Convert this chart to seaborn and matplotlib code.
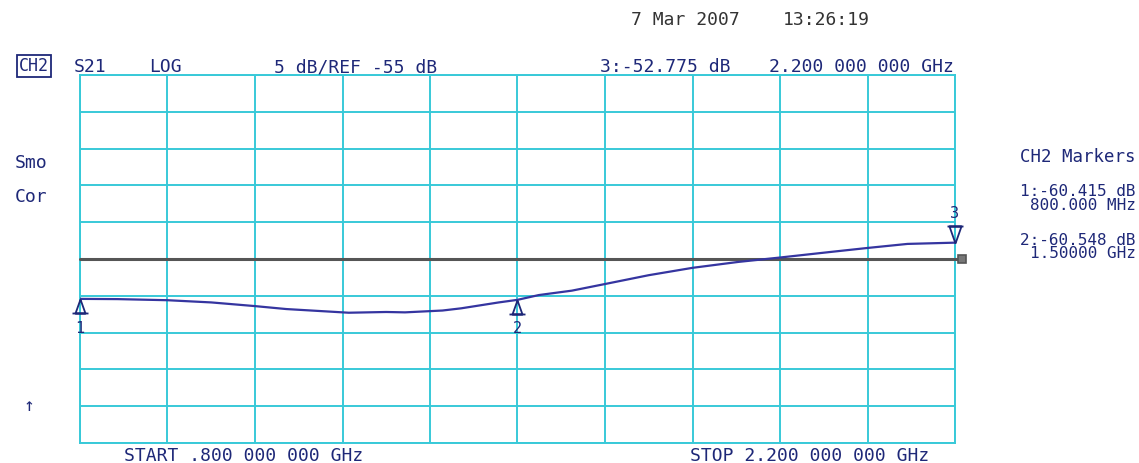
import numpy as np
import pandas as pd
import matplotlib
matplotlib.use("Agg")
import matplotlib.pyplot as plt
from matplotlib.path import Path
import seaborn as sns

# ---- data ----
freq_ghz = [0.80, 0.86, 0.94, 1.01, 1.08, 1.13, 1.19, 1.23, 1.29, 1.32, 1.38, 1.41, 1.47,
            1.50, 1.534, 1.587, 1.64, 1.71, 1.78, 1.853, 1.92, 2.00, 2.06, 2.124, 2.20]
s21_db = [-60.42, -60.45, -60.6, -60.9, -61.4, -61.8, -62.1, -62.3, -62.2, -62.25, -62.0, -61.7, -60.9,
          -60.55, -59.9, -59.3, -58.4, -57.2, -56.2, -55.4, -54.8, -54.05, -53.5, -52.95, -52.78]
marker_ids = ["1", "2", "3"]
marker_freq = [0.8, 1.5, 2.2]
marker_db = [-60.415, -60.548, -52.775]
ref_db = -55
x_start, x_stop = 0.8, 2.2
y_bottom, y_top, y_div = -80, -30, 5

# ---- style ----
GRID = "#38c9d8"
TRACE = "#3535a0"
NAVY = "#1e2878"
REFC = "#555555"

sns.set_theme(style="white")
plt.rcParams["font.family"] = ["DejaVu Sans Mono", "DejaVu Sans"]

W, H = 1139, 463
fig = plt.figure(figsize=(W / 100, H / 100), dpi=100)
fig.patch.set_facecolor("white")
ax = fig.add_axes([80 / W, 1 - 443 / H, 875 / W, 368 / H])

df = pd.DataFrame({"freq": freq_ghz, "s21": s21_db})
sns.lineplot(data=df, x="freq", y="s21", ax=ax, color=TRACE, lw=1.6, zorder=4)

ax.set_xlim(x_start, x_stop)
ax.set_ylim(y_bottom, y_top)
ax.set_xticks(np.linspace(x_start, x_stop, 11))
ax.set_yticks(np.arange(y_bottom, y_top + 1, y_div))
ax.grid(True, color=GRID, lw=1.4)
ax.tick_params(length=0, labelbottom=False, labelleft=False)
ax.set_xlabel("")
ax.set_ylabel("")
for s in ax.spines.values():
    s.set_color(GRID)
    s.set_linewidth(1.4)

# reference line with end marker
ax.plot([x_start, x_stop + 0.008], [ref_db, ref_db], color=REFC, lw=2.2, clip_on=False, zorder=3)
ax.plot([x_stop + 0.012], [ref_db], marker="s", ms=6, mfc="#777777", mec=REFC, mew=1.2,
        clip_on=False, zorder=3)

# marker glyphs
codes = [Path.MOVETO, Path.LINETO, Path.LINETO, Path.LINETO, Path.MOVETO, Path.LINETO]
up_path = Path([(0, 0), (-5, -14), (5, -14), (0, 0), (-8, -14), (8, -14)], codes)
down_path = Path([(0, 0), (-6, 17), (6, 17), (0, 0), (-8, 17), (8, 17)], codes)

for mid, mf, md in zip(marker_ids, marker_freq, marker_db):
    if mid == "3":
        ax.plot([mf], [md], marker=down_path, ms=2 * 17 * 0.72, mfc="none", mec=NAVY, mew=1.3,
                clip_on=False, zorder=5)
        ax.annotate(mid, (mf, md), xytext=(0, 21), textcoords="offset points", ha="center",
                    va="center", color=NAVY, fontsize=11, annotation_clip=False)
    else:
        ax.plot([mf], [md], marker=up_path, ms=2 * 14 * 0.72, mfc="none", mec=NAVY, mew=1.3,
                clip_on=False, zorder=5)
        ax.annotate(mid, (mf, md), xytext=(0, -21), textcoords="offset points", ha="center",
                    va="center", color=NAVY, fontsize=11, annotation_clip=False)


def ft(x, y, s, ha="center", color=NAVY, size=13, **kw):
    fig.text(x / W, 1 - y / H, s, ha=ha, va="center", color=color, fontsize=size, **kw)


# header
ft(685, 20, "7 Mar 2007", color="#333333")
ft(826, 20, "13:26:19", color="#333333")
ft(34, 66, "CH2", size=12, bbox=dict(boxstyle="square,pad=0.12", fc="none", ec=NAVY, lw=1.3))
ft(90, 67, "S21")
ft(165, 67, "LOG")
ft(356, 67, "5 dB/REF -55 dB")
ft(665, 67, "3:-52.775 dB")
ft(861, 67, "2.200 000 000 GHz")

# left annotations
ft(31, 163, "Smo")
ft(31, 197, "Cor")
ft(29, 406, "\u2191")

# right marker panel
ft(1136, 157, "CH2 Markers", ha="right", size=12.5)
ft(1136, 191, "1:-60.415 dB", ha="right", size=11.5)
ft(1136, 205, "800.000 MHz", ha="right", size=11.5)
ft(1136, 240, "2:-60.548 dB", ha="right", size=11.5)
ft(1136, 254, "1.50000 GHz", ha="right", size=11.5)

# footer
ft(244, 456, "START .800 000 000 GHz")
ft(810, 456, "STOP 2.200 000 000 GHz")

fig.savefig("out.png", dpi=100, facecolor="white")
